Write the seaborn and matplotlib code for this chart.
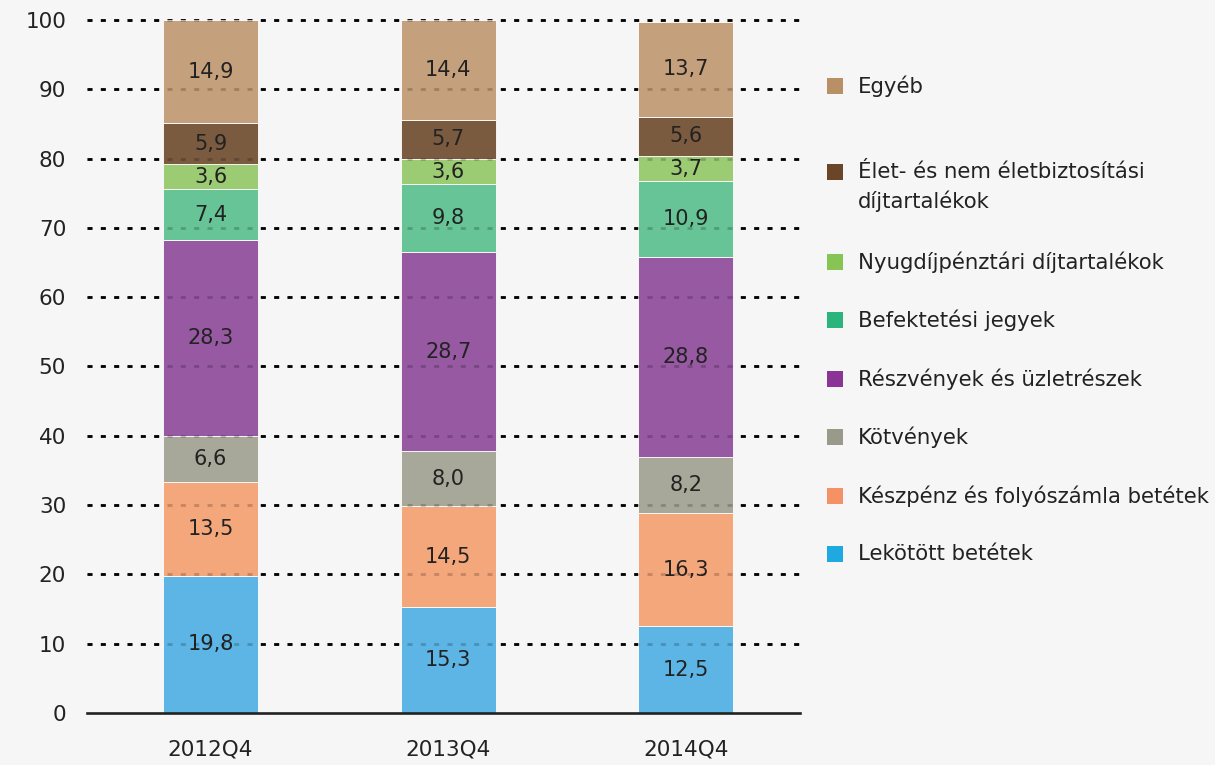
import matplotlib
matplotlib.use("Agg")
import matplotlib.pyplot as plt
import seaborn as sns
import numpy as np
import pandas as pd
from matplotlib.patches import Rectangle

quarters = ["2012Q4", "2013Q4", "2014Q4"]

# stacking order, bottom to top
series_names = [
    "Lekötött betétek",
    "Készpénz és folyószámla betétek",
    "Kötvények",
    "Részvények és üzletrészek",
    "Befektetési jegyek",
    "Nyugdíjpénztári díjtartalékok",
    "Élet- és nem életbiztosítási\ndíjtartalékok",
    "Egyéb",
]
lekotott = [19.8, 15.3, 12.5]
keszpenz = [13.5, 14.5, 16.3]
kotvenyek = [6.6, 8.0, 8.2]
reszvenyek = [28.3, 28.7, 28.8]
befektetesi = [7.4, 9.8, 10.9]
nyugdij = [3.6, 3.6, 3.7]
eletbizt = [5.9, 5.7, 5.6]
egyeb = [14.9, 14.4, 13.7]
series_values = [lekotott, keszpenz, kotvenyek, reszvenyek,
                 befektetesi, nyugdij, eletbizt, egyeb]

bar_colors = ["#5cb5e5", "#f5a77c", "#a8a89a", "#9659a2",
              "#66c497", "#9bcc74", "#7b5b40", "#c4a07c"]
legend_colors = ["#1fa9e1", "#f59164", "#9a9a8a", "#8a3596",
                 "#2bb57d", "#86c553", "#6b4528", "#b98f66"]

sns.set_theme(style="white")
plt.rcParams["font.family"] = ["DejaVu Sans"]
text_color = "#222222"

fig = plt.figure(figsize=(12.15, 7.65), dpi=100, facecolor="#f6f6f6")
ax = fig.add_axes([87 / 1215, 1 - 713 / 765, 713 / 1215, (713 - 13) / 765])
ax.set_facecolor("none")

bottom = np.zeros(len(quarters))
for name, vals, col in zip(series_names, series_values, bar_colors):
    df = pd.DataFrame({"q": quarters, "v": vals})
    sns.barplot(data=df, x="q", y="v", color=col, width=0.4, bottom=bottom,
                errorbar=None, saturation=1, edgecolor="white", linewidth=0.6,
                ax=ax, zorder=2)
    bottom = bottom + np.array(vals)

for cont, vals in zip(ax.containers, series_values):
    ax.bar_label(cont, labels=[f"{v:.1f}".replace(".", ",") for v in vals],
                 label_type="center", fontsize=15, color=text_color)

ax.set_ylim(0, 101)
ax.set_xlim(-0.52, 2.48)
ax.set_yticks(range(0, 101, 10))
ax.set_xlabel("")
ax.set_ylabel("")
ax.tick_params(axis="both", length=0, labelsize=15.5, colors=text_color)
ax.tick_params(axis="y", pad=15)
ax.tick_params(axis="x", pad=19)

grid_style = dict(color="black", linestyle=(0, (1.8, 3.0)), linewidth=2)
for y in range(10, 101, 10):
    ax.axhline(y, zorder=1, **grid_style)
    ax.axhline(y, zorder=3, alpha=0.2, **grid_style)

for side in ["left", "right", "top"]:
    ax.spines[side].set_visible(False)
ax.spines["bottom"].set_color(text_color)
ax.spines["bottom"].set_linewidth(1.9)
ax.spines["bottom"].set_zorder(4)

# legend, top to bottom
legend_rows = [86, 187, 262, 320, 379, 437, 496, 554]
for name, col, yp in zip(series_names[::-1], legend_colors[::-1], legend_rows):
    sq_y = 172 if "\n" in name else yp
    fig.add_artist(Rectangle((827 / 1215, 1 - (sq_y + 8) / 765), 16 / 1215, 16 / 765,
                             transform=fig.transFigure, color=col, lw=0))
    fig.text(858 / 1215, 1 - yp / 765, name, fontsize=15.3, color=text_color,
             va="center", ha="left", linespacing=1.45)

fig.savefig("out.png", dpi=100, facecolor=fig.get_facecolor())
